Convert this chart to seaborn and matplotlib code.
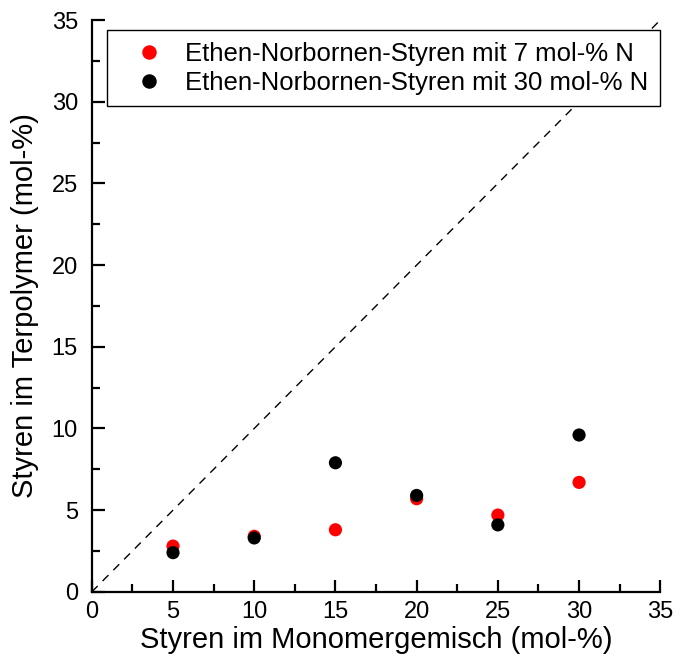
import numpy as np
import pandas as pd
import matplotlib
matplotlib.use("Agg")
import matplotlib.pyplot as plt
import seaborn as sns
from matplotlib.ticker import MultipleLocator

# Styrene content in the monomer feed (mol-%)
styren_feed = [5, 10, 15, 20, 25, 30]
# Styrene content found in the terpolymer (mol-%)
terpolymer_7N = [2.8, 3.4, 3.8, 5.7, 4.7, 6.7]
terpolymer_30N = [2.4, 3.3, 7.9, 5.9, 4.1, 9.6]
series_labels = ["Ethen-Norbornen-Styren mit 7 mol-% N",
                 "Ethen-Norbornen-Styren mit 30 mol-% N"]
series_colors = ["#ff0000", "#000000"]
diagonal = [0, 35]

sns.set_style("ticks", {"axes.edgecolor": "black", "text.color": "black",
                        "axes.labelcolor": "black", "xtick.color": "black",
                        "ytick.color": "black"})
plt.rcParams["font.family"] = ["Liberation Sans", "DejaVu Sans"]

df = pd.DataFrame({
    "feed": styren_feed * 2,
    "polymer": terpolymer_7N + terpolymer_30N,
    "series": [series_labels[0]] * len(styren_feed) + [series_labels[1]] * len(styren_feed),
})

fig = plt.figure(figsize=(6.8, 6.68), dpi=100)
ax = fig.add_axes([0.135, 0.114, 0.836, 0.856])

ax.plot(diagonal, diagonal, color="black", lw=1.0, ls=(0, (6, 5)), zorder=1)

sns.scatterplot(data=df, x="feed", y="polymer", hue="series",
                palette=dict(zip(series_labels, series_colors)),
                s=90, edgecolor="none", ax=ax, zorder=3)

ax.set_xlim(0, 35)
ax.set_ylim(0, 35)
ax.xaxis.set_major_locator(MultipleLocator(5))
ax.yaxis.set_major_locator(MultipleLocator(5))
ax.xaxis.set_minor_locator(MultipleLocator(2.5))
ax.yaxis.set_minor_locator(MultipleLocator(2.5))
ax.tick_params(which="major", direction="in", length=9, width=1.6,
               labelsize=17, colors="black")
ax.tick_params(axis="x", which="major", pad=6.5)
ax.tick_params(axis="y", which="major", pad=10)
ax.tick_params(which="minor", direction="in", length=5.5, width=1.6, colors="black")
for side in ["top", "right"]:
    ax.spines[side].set_visible(False)
for side in ["left", "bottom"]:
    ax.spines[side].set_linewidth(1.6)
    ax.spines[side].set_color("black")

ax.set_xlabel("Styren im Monomergemisch (mol-%)", fontsize=21, labelpad=2)
ax.set_ylabel("Styren im Terpolymer (mol-%)", fontsize=21, labelpad=9)

leg = ax.legend(loc="upper right", bbox_to_anchor=(1.0, 1 - 10 / 572), fontsize=18.5,
                frameon=True, fancybox=False, edgecolor="black",
                framealpha=1.0, handlelength=2.4, handletextpad=0.2,
                borderpad=0.45, labelspacing=0.2, markerscale=1.1,
                borderaxespad=0.0)
leg.get_frame().set_linewidth(1.0)
leg.set_zorder(5)

fig.savefig("out.png", dpi=100)
